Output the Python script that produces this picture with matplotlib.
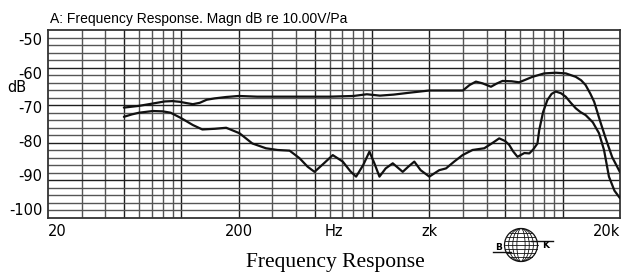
import matplotlib.pyplot as plt
from matplotlib.patches import Circle, Ellipse

# upper trace (Hz, dB)
upper_freq = [50, 60, 71, 82, 90, 98, 107, 115, 125, 136, 150, 172, 200, 250,
              300, 417, 600, 800, 940, 1100, 1300, 1600, 2000, 2600, 3000,
              3250, 3510, 3800, 4210, 4500, 4840, 5400, 5920, 6950, 8000,
              9200, 10400, 11720, 12500, 13200, 14000, 14640, 15760, 16800,
              18200, 20000]
upper_db = [-70.2, -69.7, -69.0, -68.4, -68.3, -68.5, -68.9, -69.2, -68.8,
            -67.9, -67.5, -67.1, -66.8, -67.0, -67.0, -67.0, -67.0, -66.8,
            -66.3, -66.7, -66.4, -65.8, -65.2, -65.2, -65.2, -63.6, -62.6,
            -63.1, -64.1, -63.2, -62.4, -62.5, -62.8, -61.2, -60.2, -60.0,
            -60.2, -61.2, -62.2, -63.6, -66.2, -68.5, -74.3, -79.1, -84.7,
            -89.1]

# lower trace (Hz, dB)
lower_freq = [50, 55, 60, 71, 80, 88, 100, 115, 129, 150, 172, 202, 236, 278,
              320, 370, 417, 460, 500, 560, 623, 703, 770, 826, 900, 970,
              1030, 1095, 1180, 1286, 1450, 1550, 1668, 1800, 2000, 2255,
              2445, 2700, 2987, 3370, 3882, 4300, 4650, 5000, 5245, 5500,
              5800, 6300, 6690, 7000, 7380, 7540, 7900, 8320, 8750, 9200,
              9800, 10380, 11000, 11720, 12400, 13210, 14400, 15520, 16490,
              17500, 18700, 20000]
lower_db = [-72.9, -72.2, -71.7, -71.2, -71.3, -71.7, -73.3, -75.3, -76.6,
            -76.4, -76.1, -77.7, -80.7, -82.1, -82.6, -82.8, -85.0, -87.5,
            -89.0, -86.5, -84.1, -86.0, -88.8, -90.4, -87.0, -83.1, -86.5,
            -90.4, -88.0, -86.5, -89.0, -87.5, -86.0, -88.5, -90.4, -88.5,
            -88.0, -86.0, -84.1, -82.6, -82.1, -80.5, -79.2, -80.0, -81.1,
            -83.0, -84.6, -83.5, -83.6, -82.5, -80.7, -76.8, -71.5, -68.0,
            -66.2, -65.5, -66.0, -67.0, -68.7, -70.4, -71.5, -72.4, -74.5,
            -77.7, -82.6, -90.4, -94.5, -96.7]

y_ticks = [-50, -60, -70, -80, -90, -100]
y_labels = ["-50", "-60", "-70", "-80", "-90", "-100"]
x_ticks = [20, 200, 635, 2000, 20000]
x_labels = ["20", "200", "Hz", "zk", "20k"]

W, H = 627, 275
fig = plt.figure(figsize=(W / 100, H / 100), dpi=100)
ax = fig.add_axes([48 / W, (H - 218) / H, 572 / W, 188 / H])
ax.set_xscale("log")
ax.set_xlim(20, 20000)
ax.set_ylim(-102.5, -47.5)

# grid: 1..9 per decade vertically, 25 equal steps horizontally
for e in range(1, 5):
    for m in range(1, 10):
        f = m * 10 ** e
        if 20 < f < 20000:
            dark = m in (5, 1, 2)
            ax.axvline(f, color="#1e1e1e" if dark else "#555555",
                       lw=1.0, zorder=1)
for k in range(1, 25):
    ax.axhline(-47.5 - 2.2 * k, color="#1e1e1e" if k % 5 == 0 else "#555555",
               lw=1.0, zorder=1)

ax.plot(upper_freq, upper_db, color="#111111", lw=1.6, zorder=3,
        solid_joinstyle="round", solid_capstyle="round")
ax.plot(lower_freq, lower_db, color="#111111", lw=1.6, zorder=3,
        solid_joinstyle="round", solid_capstyle="round")

for s in ax.spines.values():
    s.set_color("#333333")
    s.set_linewidth(1.3)

ax.set_yticks(y_ticks)
ax.set_yticklabels(y_labels, fontsize=10.5)
ax.set_xticks(x_ticks)
ax.set_xticklabels(x_labels, fontsize=10.5)
ax.minorticks_off()
ax.tick_params(length=0, pad=4)
tl = ax.get_xticklabels()
tl[0].set_ha("left")
tl[-1].set_ha("right")

fig.text(17 / W, 1 - 87 / H, "dB", fontsize=10.5, ha="center", va="center")
fig.text(50 / W, 1 - 19 / H, "A: Frequency Response. Magn dB re 10.00V/Pa",
         fontsize=10, family="Liberation Sans", ha="left", va="center")
fig.text(335 / W, 1 - 262 / H, "Frequency Response", fontsize=15.5,
         family="Liberation Serif", ha="center", va="center")

# B&K logo
lg = fig.add_axes([488 / W, (H - 266) / H, 70 / W, 42 / H])
lg.set_xlim(488, 558)
lg.set_ylim(266, 224)
lg.axis("off")
cx, cy, r = 521, 245, 16.5
lg.add_patch(Circle((cx, cy), r, fill=False, lw=0.9, color="#111111"))
for frac in [0.25, 0.5, 0.75]:
    lg.add_patch(Ellipse((cx, cy), 2 * r * frac, 2 * r, fill=False, lw=0.6,
                         color="#111111"))
for dy in [-12, -8, -4, 0, 4, 8, 12]:
    half = (r ** 2 - dy ** 2) ** 0.5
    lg.plot([cx - half, cx + half], [cy + dy, cy + dy], color="#111111",
            lw=0.6)
lg.plot([493, cx - 10], [251.5, 251.5], color="#111111", lw=1.0)
lg.plot([cx + 10, 553], [241, 241], color="#111111", lw=1.0)
lg.text(499, 247, "B", fontsize=6.5, fontweight="bold", ha="center",
        va="center")
lg.text(546, 246, "K", fontsize=6.5, fontweight="bold", ha="center",
        va="center")

fig.savefig("out.png", dpi=100)
